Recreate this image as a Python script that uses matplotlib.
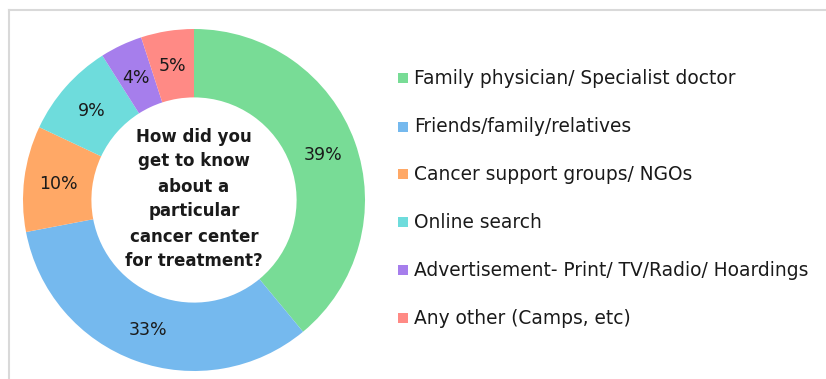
import matplotlib
matplotlib.use("Agg")
import matplotlib.pyplot as plt
import numpy as np
from matplotlib.patches import Rectangle
from matplotlib.lines import Line2D

categories = [
    "Family physician/ Specialist doctor",
    "Friends/family/relatives",
    "Cancer support groups/ NGOs",
    "Online search",
    "Advertisement- Print/ TV/Radio/ Hoardings",
    "Any other (Camps, etc)",
]
shares = [39, 33, 10, 9, 4, 5]
colors = ["#78dc96", "#75b9ee", "#ffa866", "#6edcdc", "#a67eec", "#ff8a85"]
center_title = "How did you\nget to know\nabout a\nparticular\ncancer center\nfor treatment?"

W, H = 826, 379
fig = plt.figure(figsize=(W / 100, H / 100), dpi=100)
fig.patch.set_facecolor("white")

# light frame along the top and left edges
fig.add_artist(Line2D([8.5 / W, 1.0], [1 - 9.5 / H, 1 - 9.5 / H], transform=fig.transFigure,
                      color="#d9d9d9", lw=1.5))
fig.add_artist(Line2D([8.5 / W, 8.5 / W], [0.0, 1 - 9.5 / H], transform=fig.transFigure,
                      color="#d9d9d9", lw=1.5))

# donut axes: centre (194, 200) px, outer radius 171 px
cx, cy, R = 194, 200, 171
box = 176
ax = fig.add_axes([(cx - box) / W, (H - cy - box) / H, 2 * box / W, 2 * box / H])

ring = 0.40
wedges, _ = ax.pie(shares, colors=colors, startangle=90, counterclock=False,
                   radius=R, wedgeprops=dict(width=R * ring, edgecolor="none"))
ax.set_xlim(-box, box)
ax.set_ylim(-box, box)
ax.set_aspect("equal")
ax.axis("off")

mid_r = R * (1 - ring / 2)
for v, w in zip(shares, wedges):
    ang = np.deg2rad((w.theta1 + w.theta2) / 2)
    ax.text(mid_r * np.cos(ang), mid_r * np.sin(ang) - 1.5, f"{v}%",
            ha="center", va="center", fontsize=12.5, color="#1a1a1a")

ax.text(0, 1, center_title, ha="center", va="center", fontsize=12,
        fontweight="bold", color="#1a1a1a", linespacing=1.5)

# legend
leg_x = 398
row_y = [78, 127, 174, 222, 270, 318]
sq = 10
for lab, col, y in zip(categories, colors, row_y):
    fig.add_artist(Rectangle((leg_x / W, (H - y - sq / 2) / H), sq / W, sq / H,
                             transform=fig.transFigure, facecolor=col, edgecolor="none"))
    fig.text((leg_x + 16) / W, (H - y) / H, lab, ha="left", va="center",
             fontsize=13.4, color="#1a1a1a")

fig.savefig("out.png", dpi=100, facecolor="white")
